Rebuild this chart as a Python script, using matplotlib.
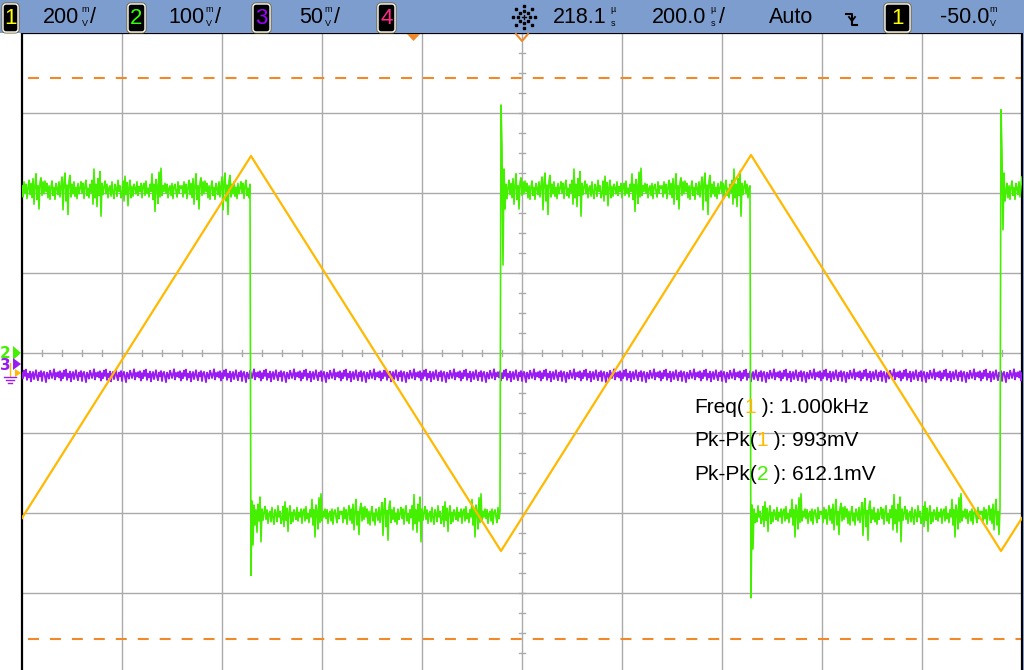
import numpy as np
import matplotlib
matplotlib.use("Agg")
import matplotlib.pyplot as plt
from matplotlib.patches import Rectangle, FancyBboxPatch, Polygon
from matplotlib.lines import Line2D
from matplotlib.transforms import IdentityTransform

plt.rcParams['lines.scale_dashes'] = False

# ---------------- data ----------------
# time axis: microseconds relative to screen centre (200 us/div, 10 div)
# Channel 1 (triangle) vertices, volts
ch1_t = [-1000, -542, -42, 458, 958, 1000]
ch1_v = [-0.3625, 0.5425, -0.445, 0.545, -0.445, -0.3625]
ch1_scale = 0.2          # V/div
ch1_offset_div = -0.25   # ground marker position (div)

# Channel 2 (square) edges and levels, volts
ch2_edges_t = [-542, -42, 458, 958]
ch2_levels = [0.204, -0.203, 0.204, -0.203, 0.204]
ch2_ring = [
    [-0.278, -0.185, -0.240, -0.190, -0.215],   # falling edge 1
    [0.310, 0.258, 0.110, 0.230, 0.180],        # rising edge 1
    [-0.306, -0.190, -0.245, -0.195, -0.212],   # falling edge 2
    [0.304, 0.250, 0.154, 0.225, 0.190],        # rising edge 2
]
ch2_noise_mv = [5, -9, 10, -4, 7, -11, 3, 12, -6, 8,
                -10, 14, -18, 6, 20, -12, 5, -24, 9, 15,
                -7, 10, -5, 11, -2, 8, -10, 5, -12, 4,
                11, -7, 3, -12, 8, 2, -6, 10, -9, 5,
                16, -25, 10, 21, -14, 6, -31, 11, 18, -9,
                7, -5, 10, -8, 3, -11, 8, -5, 2, 10,
                -4, 8, -11, 5, 12, -7, 2, -10, 7, -3,
                12, -18, 26, -10, 7, -21, 14, -7, 23, -33,
                8, -6, 4, 11, -5, 7, -10, 2, 5, -8,
                10, -3, -11, 7, 2, -8, 12, -2, 5, -10,
                -5, 11, -14, 17, -6, 9, -20, 4, 12, -10,
                4, -8, 7, 2, -5, 10, -7, 4, -2, 8,
                -10, 5, 8, -7, 11, -4, 2, -9, 7, -2,
                20, -12, 7, -27, 13, 5, -17, 22, -9, 27,
                -7, 5, -2, 8, -4, 7, -10, 2, 5, -7,
                8, -11, 4, 7, -2, -9, 10, -4, 5, 2]
ch2_scale = 0.1
ch2_offset_div = 0.0

# Channel 3 (flat, noisy)
ch3_level = -0.00625
ch3_noise_mv = [1.2, -2.0, 2.8, -0.6, 3.4, -3.1, 0.8, -1.5, 2.2, -4.0, 0.4, 1.9, -2.6, 0.2,
                3.0, -1.2, -3.3, 1.6, -0.8, 2.5, -3.8, 0.9, 2.0, -1.4, -4.5, 1.5, 0.1, -2.3,
                2.7, 1.0, -1.9, 0.6, 3.6, -2.8, 1.3, -0.9, 1.8, -1.6, 2.4, -3.5]
ch3_scale = 0.05
ch3_offset_div = -0.15

# cursor lines (div)
cursor_levels_div = [3.4375, -3.575]

# header / measurement texts
ch_scales_txt = ["200", "100", "50"]
meas_rows = [("Freq(", "1", " ): 1.000kHz"),
             ("Pk-Pk(", "1", " ): 993mV"),
             ("Pk-Pk(", "2", " ): 612.1mV")]

# ---------------- styling ----------------
C1 = '#ffb900'
C2 = '#44f000'
C3 = '#9b1cf2'
C4 = '#ff2a8a'
ORANGE = '#f0892a'
HEADER = '#7c9dcd'
GRID = '#aaaaaa'

W, H = 1024, 670
fig = plt.figure(figsize=(W / 100, H / 100), dpi=100)
fig.patch.set_facecolor('white')

ax = fig.add_axes([22 / W, (H - 673) / H, 1000 / W, 640 / H])
ax.set_xlim(-1000, 1000)
ax.set_ylim(-4, 4)
ax.set_facecolor('white')
ax.set_xticks([]); ax.set_yticks([])
for s in ['left', 'top', 'right']:
    ax.spines[s].set_color('black'); ax.spines[s].set_linewidth(1.6)
ax.spines['bottom'].set_visible(False)

# grid
for gx in np.arange(-800, 801, 200):
    ax.axvline(gx, color=GRID, lw=1.0, zorder=1)
for gy in np.arange(-3, 4, 1):
    ax.axhline(gy, color=GRID, lw=1.0, zorder=1)
# centre-line minor ticks
for tx in np.arange(-1000, 1001, 40):
    ax.plot([tx, tx], [-0.0375, 0.0375], color=GRID, lw=1.0, zorder=1)
for ty in np.arange(-4, 4.01, 0.25):
    ax.plot([-6, 6], [ty, ty], color=GRID, lw=1.0, zorder=1)

# cursors
for cy in cursor_levels_div:
    ax.hlines(cy, -988, 1000, colors=ORANGE, lw=1.5, linestyles=(0, (7.9, 7.9)), zorder=2)

# channel 3
t3 = np.arange(-1000, 1001, 2)
v3 = ch3_level + np.resize(np.array(ch3_noise_mv) / 1000.0, t3.size)
ax.plot(t3, v3 / ch3_scale + ch3_offset_div, color=C3, lw=1.3, zorder=3)

# channel 2
t2 = np.arange(-1000, 1001, 2)
idx = np.searchsorted(ch2_edges_t, t2, side='right')
v2 = np.array(ch2_levels)[idx] + np.resize(np.array(ch2_noise_mv) / 1000.0, t2.size)
for e, ring in zip(ch2_edges_t, ch2_ring):
    i0 = int(np.searchsorted(t2, e))
    v2[i0:i0 + len(ring)] = ring
ax.plot(t2, v2 / ch2_scale + ch2_offset_div, color=C2, lw=1.2, zorder=4)

# channel 1
ax.plot(ch1_t, np.array(ch1_v) / ch1_scale + ch1_offset_div, color=C1, lw=1.6, zorder=5)

# ---------------- header ----------------
ID = IdentityTransform()
def Y(y):
    return H - y

fig.patches.append(Rectangle((0, Y(33)), W, 33, transform=ID, facecolor=HEADER,
                             edgecolor='none', zorder=0))
fig.patches.append(Rectangle((1023, 0), 2, H - 33, transform=ID, facecolor=HEADER,
                             edgecolor='none', zorder=10))

def chbox(x0, x1, digit, color, edge='white'):
    fig.patches.append(FancyBboxPatch((x0, Y(32)), x1 - x0, 28,
                                      boxstyle='round,pad=0,rounding_size=3', transform=ID,
                                      facecolor='black', edgecolor='#6d6232', lw=2.2, zorder=2))
    fig.patches.append(FancyBboxPatch((x0, Y(32)), x1 - x0, 28,
                                      boxstyle='round,pad=0,rounding_size=3', transform=ID,
                                      facecolor='black', edgecolor=edge, lw=1.0, zorder=3))
    fig.text((x0 + x1) / 2 / W, 1 - 18 / H, digit, color=color, fontsize=16,
             family='Liberation Sans', ha='center', va='center', zorder=4)

FONT = dict(family='Liberation Sans', fontsize=15.5, color='black', va='center', zorder=4)
SMALL = dict(family='Liberation Sans', fontsize=6.5, color='black', ha='center', va='center', zorder=4)

def txt(x, s, y=17.5, ha='left'):
    fig.text(x / W, 1 - y / H, s, ha=ha, **FONT)

def stacked(xc, top, bot):
    fig.text(xc / W, 1 - 9.5 / H, top, **SMALL)
    fig.text(xc / W, 1 - 23.5 / H, bot, **SMALL)

chbox(3, 18, "1", '#ffff00')
txt(43, ch_scales_txt[0]); stacked(85, "m", "V"); txt(90, "/")
chbox(128, 145, "2", '#33ff00')
txt(168, ch_scales_txt[1]); stacked(209, "m", "V"); txt(215, "/")
chbox(253, 270, "3", '#a000ff')
txt(299, ch_scales_txt[2]); stacked(328, "m", "V"); txt(334, "/")
chbox(378, 395, "4", C4)

# sun icon
cx, cy = 524, 17
for a in np.arange(0, 360, 45):
    for r in (6, 11):
        fig.add_artist(Line2D([cx + r * np.cos(np.radians(a))], [Y(cy) + r * np.sin(np.radians(a))],
                              marker='s', ms=1.6, color='black', transform=ID, lw=0))
fig.add_artist(Line2D([cx - 2, cx + 2], [Y(cy), Y(cy)], color='black', lw=1, transform=ID))
fig.add_artist(Line2D([cx, cx], [Y(cy) - 2, Y(cy) + 2], color='black', lw=1, transform=ID))

txt(606, "218.1", ha='right'); stacked(613, "µ", "s")
txt(706, "200.0", ha='right'); stacked(713, "µ", "s"); txt(719, "/")
txt(769, "Auto")
# trigger edge symbol
fig.add_artist(Line2D([846, 852, 852, 857], [Y(14), Y(14), Y(25), Y(25)], color='black',
                      lw=1.5, transform=ID))
fig.add_artist(Line2D([849, 852, 855], [Y(17), Y(21), Y(17)], color='black', lw=1.3, transform=ID))
chbox(885, 910, "1", '#ffff00')
txt(940, "-50.0"); stacked(993, "m", "V")

# top markers in plot
fig.patches.append(Polygon([(407, Y(34)), (420, Y(34)), (413.5, Y(41))], closed=True,
                           transform=ID, facecolor=ORANGE, edgecolor='none', zorder=11))
fig.add_artist(Line2D([516, 522, 528], [Y(34), Y(41), Y(34)], color=ORANGE, lw=1.5,
                      transform=ID, zorder=11))

# left channel markers
fig.text(5.5 / W, 1 - 353 / H, "2", color=C2, fontsize=11, family='DejaVu Sans',
         fontweight='bold', ha='center', va='center')
fig.patches.append(Polygon([(13, Y(346)), (21, Y(353)), (13, Y(360))], closed=True,
                           transform=ID, facecolor=C2, edgecolor='none'))
fig.text(5.5 / W, 1 - 366 / H, "3", color=C3, fontsize=11, family='DejaVu Sans',
         fontweight='bold', ha='center', va='center')
fig.patches.append(Polygon([(13, Y(358)), (21, Y(364)), (13, Y(370))], closed=True,
                           transform=ID, facecolor=C3, edgecolor='none'))
fig.patches.append(Polygon([(15, Y(369)), (21, Y(373)), (15, Y(377))], closed=True,
                           transform=ID, facecolor=C1, edgecolor='none'))
fig.add_artist(Line2D([10, 10], [Y(363), Y(376)], color=C1, lw=1.0, transform=ID))
for yy, x0, x1 in [(377, 4, 16), (380, 6, 14), (383, 8, 12)]:
    fig.add_artist(Line2D([x0, x1], [Y(yy), Y(yy)], color=C3, lw=1.0, transform=ID))

# ---------------- measurements ----------------
MF = dict(family='Liberation Sans', fontsize=15)
baselines = [413, 446, 480]
mcolors = [C1, C1, C2]
for (a, b, c), yb, col in zip(meas_rows, baselines, mcolors):
    t = fig.text(694 / W, 1 - yb / H, a, color='black', va='baseline', ha='left', zorder=12, **MF)
    t = ax.annotate(b, xycoords=t, xy=(1, 0), va='bottom', color=col, annotation_clip=False,
                    zorder=12, **MF)
    ax.annotate(c, xycoords=t, xy=(1, 0), va='bottom', color='black', annotation_clip=False,
                zorder=12, **MF)

fig.savefig('out.png', dpi=100)
